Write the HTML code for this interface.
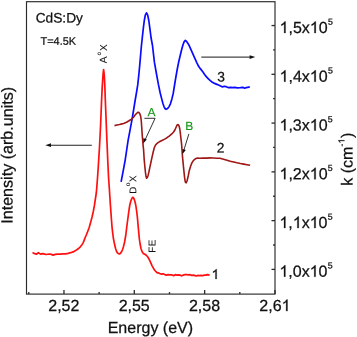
<!DOCTYPE html>
<html><head><meta charset="utf-8"><title>CdS:Dy spectra</title><style>
html,body{margin:0;padding:0;background:#fff;}
body{width:357px;height:337px;overflow:hidden;}
svg{display:block;will-change:transform;}
text{font-family:"Liberation Sans",sans-serif;font-kerning:none;stroke:currentColor;stroke-width:0.25px;}
</style></head><body>
<svg width="357" height="337" viewBox="0 0 357 337" xmlns="http://www.w3.org/2000/svg">
<rect width="357" height="337" fill="#fff"/>
<rect x="26.5" y="1.7" width="248.5" height="292.4" fill="none" stroke="#2a2a2a" stroke-width="1.15"/>
<line x1="28.79" y1="294" x2="28.79" y2="292.1" stroke="#2a2a2a" stroke-width="1.3"/>
<line x1="63.96" y1="294" x2="63.96" y2="290" stroke="#2a2a2a" stroke-width="1.3"/>
<line x1="99.13" y1="294" x2="99.13" y2="292.1" stroke="#2a2a2a" stroke-width="1.3"/>
<line x1="134.31" y1="294" x2="134.31" y2="290" stroke="#2a2a2a" stroke-width="1.3"/>
<line x1="169.48" y1="294" x2="169.48" y2="292.1" stroke="#2a2a2a" stroke-width="1.3"/>
<line x1="204.65" y1="294" x2="204.65" y2="290" stroke="#2a2a2a" stroke-width="1.3"/>
<line x1="239.83" y1="294" x2="239.83" y2="292.1" stroke="#2a2a2a" stroke-width="1.3"/>
<line x1="275.00" y1="294" x2="275.00" y2="290" stroke="#2a2a2a" stroke-width="1.3"/>
<line x1="275" y1="269.40" x2="271.5" y2="269.40" stroke="#2a2a2a" stroke-width="1.3"/>
<line x1="275" y1="245.01" x2="273.1" y2="245.01" stroke="#2a2a2a" stroke-width="1.3"/>
<line x1="275" y1="220.63" x2="271.5" y2="220.63" stroke="#2a2a2a" stroke-width="1.3"/>
<line x1="275" y1="196.25" x2="273.1" y2="196.25" stroke="#2a2a2a" stroke-width="1.3"/>
<line x1="275" y1="171.86" x2="271.5" y2="171.86" stroke="#2a2a2a" stroke-width="1.3"/>
<line x1="275" y1="147.47" x2="273.1" y2="147.47" stroke="#2a2a2a" stroke-width="1.3"/>
<line x1="275" y1="123.09" x2="271.5" y2="123.09" stroke="#2a2a2a" stroke-width="1.3"/>
<line x1="275" y1="98.70" x2="273.1" y2="98.70" stroke="#2a2a2a" stroke-width="1.3"/>
<line x1="275" y1="74.32" x2="271.5" y2="74.32" stroke="#2a2a2a" stroke-width="1.3"/>
<line x1="275" y1="49.94" x2="273.1" y2="49.94" stroke="#2a2a2a" stroke-width="1.3"/>
<line x1="275" y1="25.55" x2="271.5" y2="25.55" stroke="#2a2a2a" stroke-width="1.3"/>
<polyline points="32.5,252.6 34.2,253.4 36.3,254.2 38.4,252.7 40.5,254.1 42.6,253.6 43.9,253.9 46.0,254.5 49.3,254.0 51.4,254.4 53.1,255.1 55.2,254.4 57.7,254.2 60.5,254.2 63.0,253.9 65.6,253.8 68.1,253.3 70.6,252.7 73.1,251.9 75.6,250.6 78.2,248.8 80.3,246.8 82.0,244.7 83.2,242.6 84.2,240.1 85.0,238.0 86.5,234.5 87.7,231.5 89.1,227.8 90.6,222.6 92.1,216.7 93.3,211.5 94.4,205.5 95.3,199.5 96.3,193.0 96.9,186.0 97.5,178.0 98.2,168.0 98.8,158.0 99.5,147.0 100.1,135.0 100.6,125.0 101.2,110.0 101.6,100.0 102.2,87.4 102.8,78.0 103.2,72.5 103.6,69.6 104.0,72.5 104.4,77.0 104.9,87.4 105.3,100.0 105.8,112.0 106.3,125.2 106.9,140.0 107.4,152.0 108.0,166.0 108.6,178.0 109.3,188.0 110.0,199.0 110.4,205.0 110.9,212.0 111.4,219.0 112.0,226.8 112.7,233.0 113.4,238.5 114.3,243.0 115.5,248.3 116.4,251.0 117.4,252.8 118.5,253.7 119.5,253.9 120.5,253.3 121.5,251.8 122.6,249.5 123.5,246.5 124.6,242.0 125.8,235.0 126.7,227.5 127.8,219.0 128.8,211.5 129.8,205.0 130.8,201.0 131.8,198.6 132.8,197.3 133.6,197.9 134.4,199.8 135.2,202.5 135.9,206.0 136.7,211.5 137.4,217.5 138.1,225.4 138.7,232.0 139.3,238.5 140.1,244.0 141.0,248.5 142.0,251.6 143.3,253.4 144.8,254.3 146.3,255.3 147.8,257.0 149.3,259.6 150.7,262.6 152.0,265.6 153.4,268.2 154.7,270.2 156.0,271.7 157.3,272.8 158.2,272.8 159.7,273.5 161.4,274.1 163.0,273.8 164.7,274.6 166.4,275.1 168.1,274.7 169.8,274.9 171.4,274.9 173.1,275.4 174.0,275.7 175.2,274.7 176.9,275.1 179.0,274.9 180.7,275.4 181.5,275.9 183.2,275.1 184.9,274.7 186.7,274.6 188.4,274.9 190.0,274.7 191.7,275.4 193.4,275.1 195.1,275.6 196.3,276.0 197.6,275.4 199.3,275.7 201.0,275.4 202.6,275.6 204.3,275.1 206.0,275.1 207.3,274.6 208.5,274.9 209.6,275.3" fill="none" stroke="#ff1010" stroke-width="1.7" stroke-linejoin="round"/>
<polyline points="121.1,181.8 123.1,171.3 125.1,160.6 126.6,150.5 128.1,140.4 130.0,130.3 131.9,120.2 133.6,110.0 135.2,100.0 136.5,92.5 137.8,84.4 139.0,73.0 140.0,62.2 141.3,47.0 142.2,38.5 143.3,28.3 144.3,20.5 145.3,15.2 146.5,12.8 147.7,15.2 148.8,20.5 149.9,28.7 151.1,38.0 152.5,45.5 154.4,62.2 156.4,73.5 158.4,84.4 160.2,93.0 161.7,98.9 163.0,103.7 163.9,106.3 165.0,108.5 166.1,109.3 167.3,108.8 168.4,107.6 169.2,106.4 170.5,103.6 171.9,98.9 173.2,93.5 174.4,86.0 175.8,77.5 177.2,69.5 178.6,62.3 180.1,56.0 181.6,49.8 183.0,44.8 184.2,41.6 185.3,40.4 186.4,41.2 187.6,42.9 189.3,45.8 191.3,50.3 193.3,54.9 195.2,59.2 197.0,63.1 198.6,66.3 200.5,68.9 202.8,71.8 204.6,74.5 206.5,76.9 208.4,78.9 210.3,80.6 212.0,82.0 214.5,83.4 217.5,84.6 220.6,86.0 222.5,86.9 224.3,86.3 226.2,86.7 228.6,87.7 230.5,87.3 233.0,87.7 234.8,87.3 237.3,87.8 240.4,87.7 242.8,87.3 244.7,88.2 245.9,87.7 247.8,87.3 249.8,86.9" fill="none" stroke="#0a0aff" stroke-width="1.7" stroke-linejoin="round"/>
<polyline points="114.5,125.6 117.0,125.0 119.5,124.5 122.0,123.9 124.2,123.2 126.5,122.2 129.0,120.8 130.6,119.8 132.0,118.8 133.5,117.2 134.9,115.3 136.5,113.5 137.5,112.6 138.3,112.3 139.2,112.8 139.9,114.0 140.7,116.5 141.3,121.0 141.7,127.0 142.2,134.7 143.0,144.2 143.6,150.0 144.2,159.7 144.8,166.0 145.4,172.0 146.0,176.3 146.6,178.2 147.3,177.6 148.1,175.4 149.0,171.5 149.9,167.1 151.0,162.0 152.1,156.9 153.2,152.0 154.3,147.8 155.4,145.2 156.5,143.9 158.4,142.4 160.3,141.3 162.5,140.2 164.7,139.1 167.0,137.7 169.2,136.1 171.5,134.2 173.6,132.0 175.0,129.8 176.3,126.8 177.1,125.0 177.8,124.6 178.5,124.9 179.2,126.3 179.8,129.0 180.4,133.7 181.0,139.0 181.6,144.2 182.5,156.7 183.2,163.9 183.9,170.9 184.6,177.6 185.3,181.9 186.0,182.8 187.1,180.8 188.2,176.0 189.2,170.9 190.5,166.5 191.9,162.9 193.5,160.3 195.4,158.8 197.5,158.1 199.9,158.2 203.0,158.1 207.0,158.1 210.0,157.9 213.0,158.0 216.8,158.2 220.0,158.3 223.5,159.2 227.0,160.2 230.3,161.2 233.6,162.0 237.0,162.8 240.4,163.5 243.7,164.1 247.0,164.7 250.1,165.3" fill="none" stroke="#9e1616" stroke-width="1.6" stroke-linejoin="round"/>
<line x1="144.4" y1="118.3" x2="155.1" y2="118.3" stroke="#333" stroke-width="1"/>
<line x1="155.1" y1="118.3" x2="145.0" y2="140" stroke="#333" stroke-width="1"/>
<polygon points="143.2,143.6 143.4,138.0 146.8,139.6" fill="#111"/>
<line x1="188.9" y1="133.9" x2="183.6" y2="151" stroke="#333" stroke-width="1"/>
<polygon points="182.4,154.3 182.6,148.9 185.8,150.1" fill="#111"/>
<line x1="49" y1="145.2" x2="91.8" y2="145.2" stroke="#222" stroke-width="1.1"/>
<polygon points="45.3,145.2 51,143.3 51,147.1" fill="#111"/>
<line x1="201.3" y1="57.1" x2="251" y2="57.1" stroke="#444" stroke-width="1.1"/>
<polygon points="255.3,57.1 249.6,55.2 249.6,59.0" fill="#111"/>
<g transform="rotate(0.04 178 168)">
<text x="48.390 57.288 61.733 70.632" y="311.000" font-size="16" fill="#111" color="#111" style="stroke-width:0.25px">2,52</text>
<text x="118.737 127.635 132.080 140.979" y="311.000" font-size="16" fill="#111" color="#111" style="stroke-width:0.25px">2,55</text>
<text x="189.084 197.982 202.427 211.326" y="311.000" font-size="16" fill="#111" color="#111" style="stroke-width:0.25px">2,58</text>
<path d="M763 0L583 0L583 1147Q518 1085 412.5 1023Q307 961 223 930L223 1104Q374 1175 484.5 1273.5Q595 1372 648 1466L763 1466Z" transform="translate(281.673,311.000) scale(0.007812,-0.007812)" fill="#111" stroke="#111" stroke-width="32.0"/>
<text x="259.431 268.329 272.774" y="311.000" font-size="16" fill="#111" color="#111" style="stroke-width:0.25px">2,6</text>
<path d="M763 0L583 0L583 1147Q518 1085 412.5 1023Q307 961 223 930L223 1104Q374 1175 484.5 1273.5Q595 1372 648 1466L763 1466Z" transform="translate(279.500,276.700) scale(0.007812,-0.007812)" fill="#111" stroke="#111" stroke-width="32.0"/>
<path d="M763 0L583 0L583 1147Q518 1085 412.5 1023Q307 961 223 930L223 1104Q374 1175 484.5 1273.5Q595 1372 648 1466L763 1466Z" transform="translate(309.742,276.700) scale(0.007812,-0.007812)" fill="#111" stroke="#111" stroke-width="32.0"/>
<text x="288.398 292.844 301.742 318.641" y="276.700" font-size="16" fill="#111" color="#111" style="stroke-width:0.25px">,0x0</text>
<text x="327.839" y="268.500" font-size="8.8" fill="#111" color="#111" style="stroke-width:0.25px">5</text>
<path d="M763 0L583 0L583 1147Q518 1085 412.5 1023Q307 961 223 930L223 1104Q374 1175 484.5 1273.5Q595 1372 648 1466L763 1466Z" transform="translate(279.500,227.930) scale(0.007812,-0.007812)" fill="#111" stroke="#111" stroke-width="32.0"/>
<path d="M763 0L583 0L583 1147Q518 1085 412.5 1023Q307 961 223 930L223 1104Q374 1175 484.5 1273.5Q595 1372 648 1466L763 1466Z" transform="translate(292.844,227.930) scale(0.007812,-0.007812)" fill="#111" stroke="#111" stroke-width="32.0"/>
<path d="M763 0L583 0L583 1147Q518 1085 412.5 1023Q307 961 223 930L223 1104Q374 1175 484.5 1273.5Q595 1372 648 1466L763 1466Z" transform="translate(309.742,227.930) scale(0.007812,-0.007812)" fill="#111" stroke="#111" stroke-width="32.0"/>
<text x="288.398 301.742 318.641" y="227.930" font-size="16" fill="#111" color="#111" style="stroke-width:0.25px">,x0</text>
<text x="327.839" y="219.730" font-size="8.8" fill="#111" color="#111" style="stroke-width:0.25px">5</text>
<path d="M763 0L583 0L583 1147Q518 1085 412.5 1023Q307 961 223 930L223 1104Q374 1175 484.5 1273.5Q595 1372 648 1466L763 1466Z" transform="translate(279.500,179.160) scale(0.007812,-0.007812)" fill="#111" stroke="#111" stroke-width="32.0"/>
<path d="M763 0L583 0L583 1147Q518 1085 412.5 1023Q307 961 223 930L223 1104Q374 1175 484.5 1273.5Q595 1372 648 1466L763 1466Z" transform="translate(309.742,179.160) scale(0.007812,-0.007812)" fill="#111" stroke="#111" stroke-width="32.0"/>
<text x="288.398 292.844 301.742 318.641" y="179.160" font-size="16" fill="#111" color="#111" style="stroke-width:0.25px">,2x0</text>
<text x="327.839" y="170.960" font-size="8.8" fill="#111" color="#111" style="stroke-width:0.25px">5</text>
<path d="M763 0L583 0L583 1147Q518 1085 412.5 1023Q307 961 223 930L223 1104Q374 1175 484.5 1273.5Q595 1372 648 1466L763 1466Z" transform="translate(279.500,130.390) scale(0.007812,-0.007812)" fill="#111" stroke="#111" stroke-width="32.0"/>
<path d="M763 0L583 0L583 1147Q518 1085 412.5 1023Q307 961 223 930L223 1104Q374 1175 484.5 1273.5Q595 1372 648 1466L763 1466Z" transform="translate(309.742,130.390) scale(0.007812,-0.007812)" fill="#111" stroke="#111" stroke-width="32.0"/>
<text x="288.398 292.844 301.742 318.641" y="130.390" font-size="16" fill="#111" color="#111" style="stroke-width:0.25px">,3x0</text>
<text x="327.839" y="122.190" font-size="8.8" fill="#111" color="#111" style="stroke-width:0.25px">5</text>
<path d="M763 0L583 0L583 1147Q518 1085 412.5 1023Q307 961 223 930L223 1104Q374 1175 484.5 1273.5Q595 1372 648 1466L763 1466Z" transform="translate(279.500,81.620) scale(0.007812,-0.007812)" fill="#111" stroke="#111" stroke-width="32.0"/>
<path d="M763 0L583 0L583 1147Q518 1085 412.5 1023Q307 961 223 930L223 1104Q374 1175 484.5 1273.5Q595 1372 648 1466L763 1466Z" transform="translate(309.742,81.620) scale(0.007812,-0.007812)" fill="#111" stroke="#111" stroke-width="32.0"/>
<text x="288.398 292.844 301.742 318.641" y="81.620" font-size="16" fill="#111" color="#111" style="stroke-width:0.25px">,4x0</text>
<text x="327.839" y="73.420" font-size="8.8" fill="#111" color="#111" style="stroke-width:0.25px">5</text>
<path d="M763 0L583 0L583 1147Q518 1085 412.5 1023Q307 961 223 930L223 1104Q374 1175 484.5 1273.5Q595 1372 648 1466L763 1466Z" transform="translate(279.500,32.850) scale(0.007812,-0.007812)" fill="#111" stroke="#111" stroke-width="32.0"/>
<path d="M763 0L583 0L583 1147Q518 1085 412.5 1023Q307 961 223 930L223 1104Q374 1175 484.5 1273.5Q595 1372 648 1466L763 1466Z" transform="translate(309.742,32.850) scale(0.007812,-0.007812)" fill="#111" stroke="#111" stroke-width="32.0"/>
<text x="288.398 292.844 301.742 318.641" y="32.850" font-size="16" fill="#111" color="#111" style="stroke-width:0.25px">,5x0</text>
<text x="327.839" y="24.650" font-size="8.8" fill="#111" color="#111" style="stroke-width:0.25px">5</text>
<text x="107.816 118.488 127.387 136.285 141.613 150.512 162.957 168.285 177.184 187.855" y="333.000" font-size="16" fill="#111" color="#111" style="stroke-width:0.25px">Energy(eV)</text>
<g transform="translate(12.6,155.4) rotate(-90)"><text x="-68.453 -63.979 -55.025 -50.552 -41.598 -32.644 -24.594 -21.017 -16.544 -4.021 1.340 10.294 15.656 24.610 29.083 38.037 46.991 50.568 55.041 63.091" y="0.000" font-size="16.1" fill="#111" color="#111" style="stroke-width:0.25px">Intensity(arb.units)</text></g>
<g transform="translate(352.6,185.6) rotate(-90)"><text x="0.000 12.445 17.773 25.773" y="0.000" font-size="16" fill="#111" color="#111" style="stroke-width:0.25px">k(cm</text>
<path d="M763 0L583 0L583 1147Q518 1085 412.5 1023Q307 961 223 930L223 1104Q374 1175 484.5 1273.5Q595 1372 648 1466L763 1466Z" transform="translate(42.165,-8.200) scale(0.004199,-0.004199)" fill="#111" stroke="#111" stroke-width="59.5"/>
<text x="39.302" y="-8.200" font-size="8.6" fill="#111" color="#111" style="stroke-width:0.25px">-</text>
<text x="47.848" y="0.000" font-size="16" fill="#111" color="#111" style="stroke-width:0.25px">)</text></g>
<text x="35.600 45.494 53.113 62.251 66.057 75.951" y="22.700" font-size="13.7" fill="#111" color="#111" style="stroke-width:0.25px">CdS:Dy</text>
<text x="40.500 47.158 53.524 59.586 62.614 68.676" y="44.900" font-size="10.9" fill="#111" color="#111" style="stroke-width:0.25px">T=4.5K</text>
<g transform="translate(106.8,63.2) rotate(-90)"><text x="0.000" y="0.000" font-size="10.1" fill="#111" color="#111" style="stroke-width:0.05px">A</text>
<text x="7.077" y="-0.900" font-size="12" fill="#111" color="#111" style="stroke-width:0.05px">°</text>
<text x="12.195" y="0.000" font-size="10.1" fill="#111" color="#111" style="stroke-width:0.05px">X</text></g>
<g transform="translate(136.2,193.9) rotate(-90)"><text x="0.000" y="0.000" font-size="9.7" fill="#111" color="#111" style="stroke-width:0.05px">D</text>
<text x="7.605" y="-6.300" font-size="6.6" fill="#111" color="#111" style="stroke-width:0.05px">o</text>
<text x="11.776" y="0.000" font-size="9.7" fill="#111" color="#111" style="stroke-width:0.05px">X</text></g>
<g transform="translate(155.5,252.8) rotate(-90)"><text x="0.000" y="0.000" font-size="10" fill="#111" color="#111" style="stroke-width:0.05px">F</text>
<text x="6.508" y="0.000" font-size="10" fill="#111" color="#111" style="stroke-width:0.05px">E</text></g>
<path d="M763 0L583 0L583 1147Q518 1085 412.5 1023Q307 961 223 930L223 1104Q374 1175 484.5 1273.5Q595 1372 648 1466L763 1466Z" transform="translate(211.600,279.000) scale(0.006738,-0.006738)" fill="#111" stroke="#111" stroke-width="37.1"/>
<text x="216.800" y="152.500" font-size="13.8" fill="#111" color="#111" style="stroke-width:0.25px">2</text>
<text x="217.300" y="81.500" font-size="13.8" fill="#111" color="#111" style="stroke-width:0.25px">3</text>
<text x="147.400" y="116.300" font-size="12" fill="#119611" color="#119611" style="stroke-width:0.1px">A</text>
<text x="185.200" y="130.000" font-size="12" fill="#119611" color="#119611" style="stroke-width:0.1px">B</text>
</g>
</svg>
</body></html>
